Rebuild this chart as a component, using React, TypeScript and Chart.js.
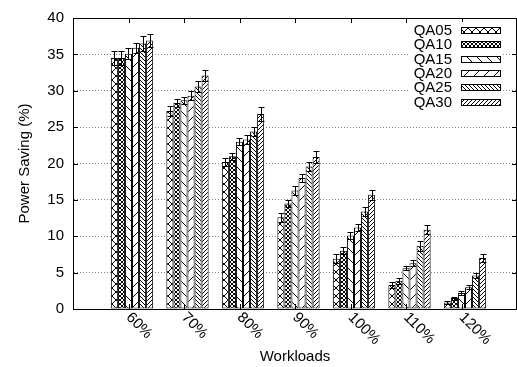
import React, { useEffect, useRef } from 'react';
import { Chart, registerables } from 'chart.js';

Chart.register(...registerables);

// ---- data ----
const categories = ['60%', '70%', '80%', '90%', '100%', '110%', '120%'];
const seriesNames = ['QA05', 'QA10', 'QA15', 'QA20', 'QA25', 'QA30'];

const qa05 = [34.5, 27.2, 20.2, 12.6, 6.9, 3.3, 0.9];
const qa10 = [34.5, 28.3, 21.0, 14.5, 8.0, 3.9, 1.5];
const qa15 = [35.1, 28.7, 23.0, 16.3, 10.1, 5.6, 2.2];
const qa20 = [35.9, 29.3, 23.3, 18.0, 11.2, 6.3, 3.0];
const qa25 = [36.5, 30.6, 24.4, 19.6, 13.4, 8.7, 4.6];
const qa30 = [36.9, 32.1, 26.8, 20.9, 15.7, 10.9, 7.0];

const qa05Err = [0.9, 0.7, 0.6, 0.6, 0.6, 0.4, 0.2];
const qa10Err = [0.9, 0.5, 0.5, 0.5, 0.5, 0.4, 0.2];
const qa15Err = [0.8, 0.5, 0.5, 0.6, 0.5, 0.3, 0.3];
const qa20Err = [0.7, 0.6, 0.6, 0.6, 0.5, 0.4, 0.3];
const qa25Err = [1.0, 0.8, 0.6, 0.6, 0.6, 0.7, 0.4];
const qa30Err = [0.9, 0.7, 1.0, 0.8, 0.7, 0.6, 0.5];

const yTicks = [0, 5, 10, 15, 20, 25, 30, 35, 40];

const seriesValues = [qa05, qa10, qa15, qa20, qa25, qa30];
const seriesErrors = [qa05Err, qa10Err, qa15Err, qa20Err, qa25Err, qa30Err];

// ---- styling ----
const FONT = "'Liberation Sans', Arial, Helvetica, sans-serif";
const FONT_SIZE = 15;
const GROUP_SHIFT = 0.063; // gnuplot histogram cluster offset relative to tic

type Dir = '/' | '\\';
function hatch(size: number, dirs: Dir[]): CanvasPattern | string {
  const c = document.createElement('canvas');
  c.width = size;
  c.height = size;
  const g = c.getContext('2d');
  if (!g) return '#fff';
  g.fillStyle = '#fff';
  g.fillRect(0, 0, size, size);
  g.strokeStyle = '#000';
  g.lineWidth = 1;
  for (const d of dirs) {
    g.beginPath();
    for (const o of [-size, 0, size]) {
      if (d === '\\') {
        g.moveTo(o, 0);
        g.lineTo(o + size, size);
      } else {
        g.moveTo(o, size);
        g.lineTo(o + size, 0);
      }
    }
    g.stroke();
  }
  return g.createPattern(c, 'repeat') || '#fff';
}

export default function App() {
  const ref = useRef<HTMLCanvasElement>(null);

  useEffect(() => {
    const canvas = ref.current;
    if (!canvas) return;

    const patterns = [
      hatch(8, ['\\', '/']),
      hatch(4, ['\\', '/']),
      hatch(10, ['\\']),
      hatch(10, ['/']),
      hatch(4, ['\\']),
      hatch(4, ['/']),
    ];

    const datasets = seriesNames.map((name, d) => ({
      label: name,
      data: seriesValues[d].map((y, i) => ({ x: i, y })),
      backgroundColor: patterns[d] as any,
      borderColor: '#000',
      borderWidth: 1,
      borderSkipped: false as any,
      categoryPercentage: 0.762,
      barPercentage: 1,
    }));

    const framePlugin = {
      id: 'gnuplotFrame',
      afterDatasetsDraw(chart: any) {
        const { ctx, scales } = chart;
        const ys = scales.y;
        ctx.save();
        ctx.strokeStyle = '#000';
        ctx.lineWidth = 1;
        seriesNames.forEach((_, d) => {
          const meta = chart.getDatasetMeta(d);
          meta.data.forEach((el: any, i: number) => {
            const v = seriesValues[d][i];
            const e = seriesErrors[d][i];
            const x = Math.round(el.x) + 0.5;
            const yHi = Math.round(ys.getPixelForValue(v + e)) + 0.5;
            const yLo = Math.round(ys.getPixelForValue(v - e)) + 0.5;
            ctx.beginPath();
            ctx.moveTo(x, yLo);
            ctx.lineTo(x, yHi);
            ctx.moveTo(x - 3, yHi);
            ctx.lineTo(x + 3, yHi);
            ctx.moveTo(x - 3, yLo);
            ctx.lineTo(x + 3, yLo);
            ctx.stroke();
          });
        });
        ctx.restore();
      },
      afterDraw(chart: any) {
        const { ctx, chartArea: a, scales } = chart;
        const xs = scales.x;
        const ys = scales.y;
        ctx.save();
        ctx.strokeStyle = '#000';
        ctx.lineWidth = 1;
        // top and right border
        ctx.beginPath();
        ctx.moveTo(a.left, a.top + 0.5);
        ctx.lineTo(a.right - 0.5, a.top + 0.5);
        ctx.lineTo(a.right - 0.5, a.bottom);
        ctx.stroke();
        // inward tick marks
        ctx.beginPath();
        yTicks.forEach((t) => {
          const y = Math.round(ys.getPixelForValue(t)) + 0.5;
          ctx.moveTo(a.left, y);
          ctx.lineTo(a.left + 5, y);
          ctx.moveTo(a.right - 5, y);
          ctx.lineTo(a.right, y);
        });
        categories.forEach((_, i) => {
          const x = Math.round(xs.getPixelForValue(i - GROUP_SHIFT)) + 0.5;
          ctx.moveTo(x, a.top);
          ctx.lineTo(x, a.top + 5);
          ctx.moveTo(x, a.bottom);
          ctx.lineTo(x, a.bottom - 5);
        });
        ctx.stroke();

        // rotated category labels
        ctx.fillStyle = '#000';
        ctx.font = `${FONT_SIZE}px ${FONT}`;
        ctx.textAlign = 'left';
        ctx.textBaseline = 'alphabetic';
        categories.forEach((lab, i) => {
          const x = xs.getPixelForValue(i - GROUP_SHIFT);
          ctx.save();
          ctx.translate(x - 3, a.bottom + 9);
          ctx.rotate(Math.PI / 4);
          ctx.fillText(lab, 0, 0);
          ctx.restore();
        });

        // key (legend) in upper right, text then sample
        const keyRight = a.right - 16;
        const sampleW = 40;
        const sampleH = 7;
        const rowH = 14.3;
        const firstRow = a.top + 12.5;
        ctx.fillStyle = '#fff';
        ctx.fillRect(keyRight - sampleW - 51, a.top + 4, sampleW + 53, rowH * seriesNames.length + 2);
        seriesNames.forEach((name, d) => {
          const cy = firstRow + d * rowH;
          ctx.fillStyle = '#000';
          ctx.textAlign = 'right';
          ctx.textBaseline = 'middle';
          ctx.fillText(name, keyRight - sampleW - 9, cy + 0.5);
          const bx = keyRight - sampleW;
          const by = Math.round(cy - sampleH / 2);
          ctx.fillStyle = patterns[d] as any;
          ctx.fillRect(bx, by, sampleW, sampleH);
          ctx.strokeStyle = '#000';
          ctx.strokeRect(bx + 0.5, by + 0.5, sampleW - 1, sampleH - 1);
        });
        ctx.restore();
      },
    };

    const chart = new Chart(canvas, {
      type: 'bar',
      data: { datasets: datasets as any },
      options: {
        animation: false,
        responsive: true,
        maintainAspectRatio: false,
        layout: { padding: { top: 10, right: 0, bottom: 0, left: 0 } },
        plugins: {
          legend: { display: false },
          tooltip: { enabled: false },
        },
        scales: {
          x: {
            type: 'linear',
            offset: false,
            min: -1 - GROUP_SHIFT,
            max: 7 - GROUP_SHIFT,
            afterBuildTicks: (s: any) => {
              s.ticks = categories.map((_, i) => ({ value: i - GROUP_SHIFT }));
            },
            afterFit: (s: any) => {
              s.height = 58;
            },
            grid: { display: false, offset: false },
            border: { display: true, color: '#000', width: 1 },
            ticks: { display: false },
            title: {
              display: true,
              text: 'Workloads',
              color: '#000',
              font: { family: FONT, size: FONT_SIZE },
              padding: { top: 0, bottom: 1 },
            },
          },
          y: {
            type: 'linear',
            min: 0,
            max: 40,
            afterBuildTicks: (s: any) => {
              s.ticks = yTicks.map((v) => ({ value: v }));
            },
            afterFit: (s: any) => {
              s.width = 73;
            },
            grid: {
              display: true,
              drawTicks: false,
              color: (c: any) => (c.tick && (c.tick.value === 0 || c.tick.value === 40) ? 'rgba(0,0,0,0)' : '#808080'),
              lineWidth: 1,
            },
            border: { display: true, color: '#000', width: 1, dash: [1, 2] },
            ticks: {
              color: '#000',
              padding: 9,
              font: { family: FONT, size: FONT_SIZE },
            },
            title: {
              display: true,
              text: 'Power Saving (%)',
              color: '#000',
              font: { family: FONT, size: FONT_SIZE },
              padding: { top: 16, bottom: 0 },
            },
          },
        },
      },
      plugins: [framePlugin],
    });

    return () => chart.destroy();
  }, []);

  return (
    <div style={{ position: 'absolute', left: 0, top: 0, width: 517, height: 367, background: '#fff' }}>
      <canvas ref={ref} />
    </div>
  );
}
